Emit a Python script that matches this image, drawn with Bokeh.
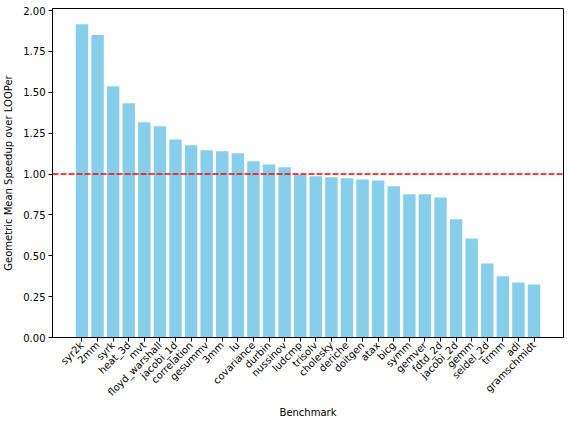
from bokeh.plotting import figure
from bokeh.models import Range1d, FixedTicker, NumeralTickFormatter, Span
from bokeh.embed import file_html
from bokeh.resources import INLINE
import math

benchmarks = ["syr2k", "2mm", "syrk", "heat_3d", "mvt", "floyd_warshall", "jacobi_1d",
              "correlation", "gesummv", "3mm", "lu", "covariance", "durbin", "nussinov",
              "ludcmp", "trisolv", "cholesky", "deriche", "doitgen", "atax", "bicg", "symm",
              "gemver", "fdtd_2d", "jacobi_2d", "gemm", "seidel_2d", "trmm", "adi", "gramschmidt"]
speedups = [1.917, 1.851, 1.537, 1.433, 1.317, 1.292, 1.212,
            1.176, 1.145, 1.139, 1.127, 1.078, 1.059, 1.041,
            0.998, 0.986, 0.980, 0.974, 0.967, 0.961, 0.925, 0.876,
            0.876, 0.857, 0.723, 0.606, 0.453, 0.374, 0.337, 0.325]
y_ticks = [0.0, 0.25, 0.5, 0.75, 1.0, 1.25, 1.5, 1.75, 2.0]
baseline = 1.0

n = len(benchmarks)
xs = list(range(n))
pad = 0.4 + 0.05 * (n - 1 + 0.8)

p = figure(width=568, height=424, output_backend="svg", toolbar_location=None,
           x_range=Range1d(-pad, n - 1 + pad), y_range=Range1d(0, max(speedups) * 1.05),
           min_border_left=52, min_border_right=5, min_border_top=8, min_border_bottom=87)

p.vbar(x=xs, top=speedups, width=0.8, color="#87ceeb", line_color=None)
p.add_layout(Span(location=baseline, dimension="width", line_color="red",
                  line_dash="6 2", line_width=1.5))

p.xgrid.visible = False
p.ygrid.visible = False
p.outline_line_color = "black"
p.outline_line_width = 1

p.xaxis.ticker = FixedTicker(ticks=xs)
p.xaxis.major_label_overrides = {i: b for i, b in enumerate(benchmarks)}
p.xaxis.major_label_orientation = math.pi / 4
p.xaxis.minor_tick_line_color = None
p.yaxis.ticker = FixedTicker(ticks=y_ticks)
p.yaxis.formatter = NumeralTickFormatter(format="0.00")
p.yaxis.minor_tick_line_color = None

p.xaxis.axis_label = "Benchmark"
p.yaxis.axis_label = "Geometric Mean Speedup over LOOPer"
for ax in (p.xaxis[0], p.yaxis[0]):
    ax.axis_label_text_font_style = "normal"
    ax.axis_label_text_font = "DejaVu Sans"
    ax.axis_label_text_font_size = "10px"
    ax.axis_label_text_color = "black"
    ax.major_label_text_font = "DejaVu Sans"
    ax.major_label_text_font_size = "10px"
    ax.major_label_text_color = "black"
    ax.major_tick_out = 4
    ax.major_tick_in = 0
    ax.axis_line_color = "black"
    ax.major_tick_line_color = "black"
p.xaxis.major_label_standoff = 2
p.xaxis.axis_label_standoff = 2
p.yaxis.major_label_standoff = 3
p.yaxis.axis_label_standoff = 6

open("out.html", "w").write(file_html(p, INLINE))
